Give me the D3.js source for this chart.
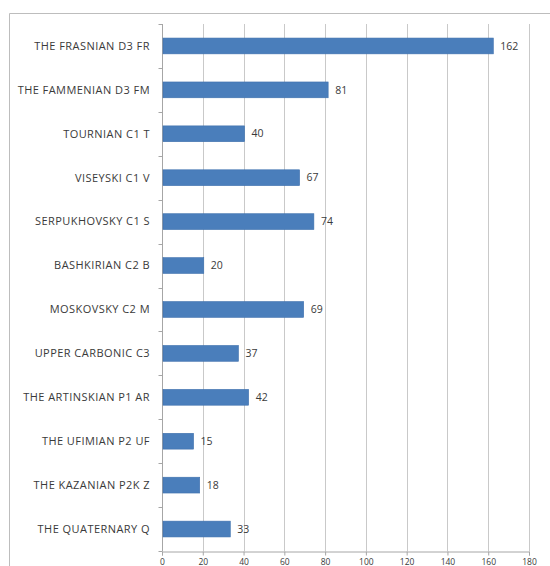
<!DOCTYPE html>
<html>
<head>
<meta charset="utf-8">
<script src="https://cdn.jsdelivr.net/npm/d3@7"></script>
<style>
  html, body { margin: 0; padding: 0; background: #fff; }
  svg { display: block; }
</style>
</head>
<body>
<svg id="chart" width="550" height="566"></svg>
<script>
// Stratigraphic units and their counts
const categories = [
  "THE FRASNIAN D3 FR",
  "THE FAMMENIAN D3 FM",
  "TOURNIAN C1 T",
  "VISEYSKI C1 V",
  "SERPUKHOVSKY C1 S",
  "BASHKIRIAN C2 B",
  "MOSKOVSKY C2 M",
  "UPPER CARBONIC C3",
  "THE ARTINSKIAN P1 AR",
  "THE UFIMIAN P2 UF",
  "THE KAZANIAN P2K Z",
  "THE QUATERNARY Q"
];
const values = [162, 81, 40, 67, 74, 20, 69, 37, 42, 15, 18, 33];
const xTicks = [0, 20, 40, 60, 80, 100, 120, 140, 160, 180];

const svg = d3.select("#chart");
const W = 550, H = 566;
const margin = { top: 24, right: 21, bottom: 15, left: 162 };
const plotW = W - margin.left - margin.right;
const plotH = H - margin.top - margin.bottom;

const gridColor = "#c9c9c9";
const axisColor = "#a6a6a6";
const textColor = "#3a3a3a";
const barColor = "#4a7ebb";
const fontFamily = "'Open Sans', 'DejaVu Sans', sans-serif";

// outer chart frame (top and left edges visible)
svg.append("path")
  .attr("d", "M9.5,566 V13.5 H550")
  .attr("fill", "none")
  .attr("stroke", "#bdbdbd")
  .attr("stroke-width", 1);

const g = svg.append("g").attr("transform", `translate(${margin.left},${margin.top})`);

const x = d3.scaleLinear().domain([0, 180]).range([0, plotW]);
const y = d3.scaleBand().domain(categories).range([0, plotH]).paddingInner(0.64).paddingOuter(0.32);

// vertical gridlines
g.append("g").selectAll("line")
  .data(xTicks.slice(1))
  .join("line")
  .attr("x1", d => Math.round(x(d)) + 0.5)
  .attr("x2", d => Math.round(x(d)) + 0.5)
  .attr("y1", 0)
  .attr("y2", plotH)
  .attr("stroke", gridColor)
  .attr("stroke-width", 1);

// x axis
const xAxis = g.append("g")
  .attr("transform", `translate(0,${plotH + 0.5})`)
  .call(d3.axisBottom(x).tickValues(xTicks).tickSize(4).tickPadding(3.5));
xAxis.select(".domain").attr("stroke", axisColor);
xAxis.selectAll(".tick line").attr("stroke", axisColor);
xAxis.selectAll(".tick text")
  .attr("fill", textColor)
  .style("font-family", fontFamily)
  .style("font-size", "8.5px");

// y axis with tick marks between categories
const step = y.step();
const yAxis = g.append("g").attr("transform", "translate(0.5,0)");
yAxis.append("line")
  .attr("x1", 0).attr("x2", 0)
  .attr("y1", 0).attr("y2", plotH)
  .attr("stroke", axisColor);
yAxis.selectAll("line.tk")
  .data(d3.range(categories.length + 1))
  .join("line")
  .attr("class", "tk")
  .attr("x1", -4).attr("x2", 0)
  .attr("y1", i => Math.round(i * step) + 0.5)
  .attr("y2", i => Math.round(i * step) + 0.5)
  .attr("stroke", axisColor);

// category labels
g.append("g").selectAll("text")
  .data(categories)
  .join("text")
  .attr("x", -12)
  .attr("y", d => y(d) + y.bandwidth() / 2)
  .attr("dy", "0.35em")
  .attr("text-anchor", "end")
  .attr("fill", textColor)
  .style("font-family", fontFamily)
  .style("font-size", "11px")
  .style("letter-spacing", "0.45px")
  .text(d => d);

// bars
g.append("g").selectAll("rect")
  .data(values)
  .join("rect")
  .attr("x", x(0) + 1)
  .attr("y", (d, i) => y(categories[i]))
  .attr("width", d => x(d) - x(0))
  .attr("height", y.bandwidth())
  .attr("fill", barColor)
  .attr("stroke", "#3f71ad")
  .attr("stroke-width", 0.6);

// value labels
g.append("g").selectAll("text")
  .data(values)
  .join("text")
  .attr("x", d => x(d) + 8)
  .attr("y", (d, i) => y(categories[i]) + y.bandwidth() / 2)
  .attr("dy", "0.35em")
  .attr("fill", textColor)
  .style("font-family", fontFamily)
  .style("font-size", "10.5px")
  .text(d => d);
</script>
</body>
</html>
